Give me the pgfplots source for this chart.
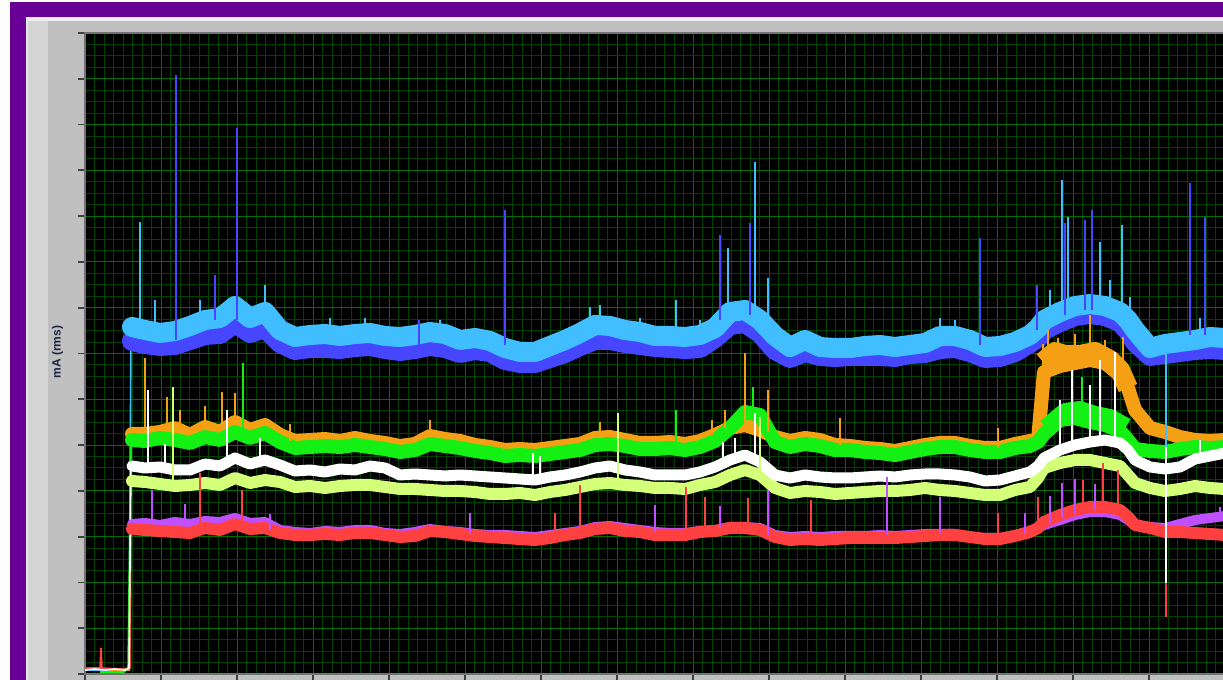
\documentclass[border=0pt]{standalone}
\usepackage{pgfplots}
\pgfplotsset{compat=1.18}
\usepackage{pgfplotstable}
\usepackage{fontspec}
\setmainfont{Liberation Sans}

\definecolor{frame}{RGB}{105,0,150}
\definecolor{panel}{RGB}{192,192,192}
\definecolor{panellt}{RGB}{212,212,212}
\definecolor{gmaj}{RGB}{0,110,0}
\definecolor{gmin}{RGB}{0,66,0}
\definecolor{cLB}{RGB}{64,190,255}
\definecolor{cDB}{RGB}{70,70,255}
\definecolor{cOR}{RGB}{245,160,20}
\definecolor{cGR}{RGB}{20,240,20}
\definecolor{cWH}{RGB}{255,255,255}
\definecolor{cYG}{RGB}{212,255,120}
\definecolor{cVI}{RGB}{190,80,255}
\definecolor{cRD}{RGB}{255,64,64}
\definecolor{labelc}{RGB}{28,36,68}

% trace levels (row position of the band centre, px)
\pgfplotstableread{
x    lb  db  or  gr  wh  yg  vi  rd
132  327 341 434 440 466 481 524 529
145  330 344 434 441 468 482 523 530
160  333 346 432 438 467 484 525 531
175  331 345 428 440 470 486 522 532
190  326 340 435 443 470 485 524 533
205  320 335 427 437 464 483 521 528
220  318 334 432 440 466 485 522 530
235  306 323 422 432 458 478 518 524
250  318 333 430 438 464 483 523 529
265  312 328 425 433 460 480 522 528
280  330 343 435 442 465 482 530 533
295  337 350 441 448 471 487 532 535
310  335 348 440 447 470 486 533 535
325  334 348 439 446 472 488 531 534
340  336 349 441 447 469 486 532 535
355  334 347 438 445 470 485 530 533
370  333 346 441 447 466 485 530 533
385  336 349 443 449 468 487 533 535
400  337 351 446 452 475 489 534 537
415  335 349 444 450 474 489 532 536
430  332 346 436 444 475 490 529 531
445  334 348 439 446 476 491 531 532
460  340 353 441 448 475 491 532 534
475  338 350 445 451 476 492 534 536
490  341 352 447 453 477 494 535 537
505  348 360 450 456 478 494 535 538
520  352 363 449 455 479 493 536 539
535  352 363 450 456 480 495 537 540
550  346 358 448 454 477 492 535 538
565  340 353 446 452 475 490 533 535
580  333 346 444 450 472 487 531 533
595  325 340 438 445 468 484 527 529
610  326 340 437 444 466 483 526 528
625  330 343 440 446 470 485 528 531
640  332 345 443 449 472 486 530 532
655  336 347 443 449 475 488 532 535
670  336 348 442 448 475 488 533 535
685  337 349 444 450 475 489 533 535
700  335 348 441 447 472 485 531 532
715  328 338 435 441 467 482 530 531
730  312 325 428 428 460 475 527 528
745  310 323 425 412 455 470 527 528
760  320 333 430 415 462 475 528 530
775  336 350 437 442 475 488 535 537
790  347 358 441 447 478 493 537 540
805  340 352 438 444 475 491 536 539
820  347 356 440 446 477 492 537 540
835  348 357 445 450 478 494 536 539
850  348 356 446 450 478 493 536 538
865  346 356 448 452 477 492 536 538
880  345 356 449 453 476 491 535 538
895  347 357 451 455 477 491 536 538
910  345 354 448 452 475 490 535 537
925  343 353 445 449 474 488 534 536
940  336 349 443 447 474 490 534 535
955  336 348 443 447 475 491 534 535
970  340 352 446 450 477 493 537 537
985  347 358 448 452 481 495 538 539
1000 346 357 448 452 480 495 538 539
1015 342 352 444 448 476 490 535 536
1030 335 343 441 446 472 487 531 532
1038 328 338 440 442 466 478 528 528
1044 320 330 372 434 458 468 525 522
1060 312 322 366 420 450 463 520 515
1075 306 316 363 418 445 460 515 510
1090 304 314 360 422 442 460 512 507
1105 306 316 363 425 440 463 512 507
1120 312 322 375 431 443 466 515 510
1128 320 331 388 440 450 475 520 517
1135 330 342 410 449 460 483 525 525
1150 348 356 428 451 467 488 527 528
1165 344 354 432 452 469 491 528 532
1180 342 352 437 449 467 489 524 532
1195 340 350 440 447 459 486 520 533
1210 337 349 441 448 456 488 518 534
1225 338 350 440 447 453 489 516 535
}\traces

\begin{document}
\begin{tikzpicture}
\useasboundingbox (0,0) rectangle (611.5pt,340pt);
\clip (0,0) rectangle (611.5pt,340pt);
\fill[white] (0,0) rectangle (611.5pt,340pt);
\fill[frame] (5pt,331.5pt) rectangle (611.5pt,339pt);
\fill[frame] (5pt,0) rectangle (13pt,339pt);
\fill[panel] (13pt,0) rectangle (611.5pt,331.5pt);
\fill[black!7] (13pt,329.7pt) rectangle (611.5pt,331.5pt);
\fill[black!10] (13pt,0) rectangle (14pt,331.5pt);
\fill[panellt] (14pt,0) rectangle (24pt,329.7pt);

\begin{axis}[
    at={(42.5pt,3pt)}, anchor=south west,
    width=570pt, height=320.5pt, scale only axis,
    xmin=85, xmax=1225, ymin=0, ymax=641,
    xtick={85,161,...,1225},
    ytick distance=45.7857,
    xtick pos=bottom, ytick pos=left,
    minor x tick num=7,
    minor y tick num=3,
    xticklabels={}, yticklabels={},
    grid=both,
    major grid style={draw=gmaj, line width=0.5pt},
    minor grid style={draw=gmin, line width=0.5pt},
    tick align=outside,
    major tick length=3.6pt,
    minor tick length=0pt,
    every tick/.style={draw=black!75, line width=0.9pt},
    axis line style={draw=black!55, line width=0.8pt},
    axis background/.style={fill=black},
    ylabel={mA (rms)},
    ylabel style={at={(axis description cs:-0.024,0.502)}, anchor=center,
        font=\fontsize{6}{7}\selectfont\bfseries, text=labelc},
    band/.style={no marks, line join=round, line cap=round},
    step/.style={no marks, line join=round, line cap=butt},
    spike/.style={no marks, line width=1pt, unbounded coords=jump},
    hair/.style={no marks, line width=0.7pt, unbounded coords=jump},
]
% start-up part near zero and the step at switch-on
\addplot[cLB, no marks, line width=0.8pt] coordinates {(85,4) (129,4) (131,347)};
\addplot[cOR, no marks, line width=0.8pt] coordinates {(110,3) (129,4) (131,240)};
\addplot[cGR, no marks, line width=0.8pt] coordinates {(100,2) (124,2) (128,5) (131,234)};
\addplot[cRD, no marks, line width=0.8pt] coordinates {(85,6) (100,6) (101,26) (102,6) (120,5) (130,6) (131,145)};
\addplot[cWH, no marks, line width=0.8pt] coordinates {(85,4) (95,5) (105,4) (115,5) (125,4) (129,6) (131,208)};

% noisy bands
\addplot[cDB, band, line width=10pt] table[x=x, y expr=674-\thisrow{db}] {\traces};
\addplot[cLB, band, line width=10pt] table[x=x, y expr=674-\thisrow{lb}] {\traces};
\addplot[cOR, band, line width=7pt] table[x=x, y expr=674-\thisrow{or}] {\traces};
% wider orange step between 1044 and 1128
\addplot[cOR, step, line width=10pt] coordinates {
 (1043,312) (1055,322) (1065,319) (1080,319) (1095,322) (1110,314) (1120,304) (1128,286)};
\addplot[cOR, no marks, line width=1pt] coordinates {(1043,230) (1043,330)};
\addplot[cGR, band, line width=7pt] table[x=x, y expr=674-\thisrow{gr}] {\traces};
\addplot[cGR, step, line width=9pt] coordinates {
 (1046,246) (1065,262) (1080,264) (1095,259) (1110,256) (1126,247)};
\addplot[cYG, band, line width=6pt] table[x=x, y expr=674-\thisrow{yg}] {\traces};
\addplot[cWH, band, line width=5.5pt] table[x=x, y expr=674-\thisrow{wh}] {\traces};
\addplot[cVI, band, line width=5pt] table[x=x, y expr=674-\thisrow{vi}] {\traces};
\addplot[cRD, band, line width=6pt] table[x=x, y expr=674-\thisrow{rd}] {\traces};

% small hairs on the bands
\addplot[cLB, hair] coordinates {
 (155,340) (155,374) (155,nan) (200,350) (200,374) (200,nan)
 (265,360) (265,389) (265,nan) (330,338) (330,356) (330,nan)
 (365,338) (365,356) (365,nan) (440,340) (440,354) (440,nan)
 (600,348) (600,369) (600,nan) (640,340) (640,356) (640,nan)
 (700,338) (700,354) (700,nan) (940,338) (940,356) (940,nan)
 (955,338) (955,354) (955,nan) (1050,356) (1050,384) (1050,nan)
 (1110,368) (1110,394) (1110,nan) (1200,334) (1200,356) (1200,nan)};
\addplot[cOR, hair] coordinates {
 (205,247) (205,268) (205,nan) (290,233) (290,250) (290,nan)
 (430,238) (430,254) (430,nan) (600,236) (600,252) (600,nan)
 (725,246) (725,264) (725,nan) (1058,308) (1058,336) (1058,nan)
 (1075,310) (1075,340) (1075,nan) (1105,312) (1105,334) (1105,nan)};
\addplot[cWH, hair] coordinates {
 (165,206) (165,230) (165,nan) (260,214) (260,236) (260,nan)
 (540,194) (540,218) (540,nan) (735,214) (735,236) (735,nan)
 (1060,224) (1060,274) (1060,nan) (1090,232) (1090,289) (1090,nan)
 (1100,234) (1100,314) (1100,nan) (1200,215) (1200,234) (1200,nan)};
\addplot[cVI, hair] coordinates {
 (185,150) (185,170) (185,nan) (270,144) (270,160) (270,nan)
 (720,146) (720,168) (720,nan) (1050,150) (1050,178) (1050,nan)
 (1075,160) (1075,195) (1075,nan) (1095,164) (1095,190) (1095,nan)};

% spikes
\addplot[cDB, spike] coordinates {
 (176,334) (176,599) (176,nan) (215,354) (215,399) (215,nan)
 (237,354) (237,546) (237,nan) (419,329) (419,354) (419,nan)
 (505,329) (505,464) (505,nan) (720,354) (720,439) (720,nan)
 (750,359) (750,451) (750,nan) (980,329) (980,436) (980,nan)
 (1037,344) (1037,389) (1037,nan) (1065,359) (1065,451) (1065,nan)
 (1085,364) (1085,454) (1085,nan) (1092,364) (1092,464) (1092,nan)
 (1190,339) (1190,491) (1190,nan) (1205,339) (1205,457) (1205,nan)};
\addplot[cLB, spike] coordinates {
 (140,349) (140,452) (140,nan) (590,354) (590,367) (590,nan)
 (676,344) (676,374) (676,nan) (728,359) (728,426) (728,nan)
 (755,369) (755,512) (755,nan) (768,354) (768,396) (768,nan)
 (1062,364) (1062,494) (1062,nan) (1068,369) (1068,457) (1068,nan)
 (1100,369) (1100,432) (1100,nan) (1122,364) (1122,449) (1122,nan)
 (1130,354) (1130,377) (1130,nan) (1166,329) (1166,227) (1166,nan)};
\addplot[cOR, spike] coordinates {
 (145,244) (145,316) (145,nan) (167,244) (167,277) (167,nan)
 (180,246) (180,264) (180,nan) (222,244) (222,282) (222,nan)
 (235,252) (235,281) (235,nan) (712,239) (712,254) (712,nan)
 (745,249) (745,321) (745,nan) (768,242) (768,284) (768,nan)
 (840,229) (840,256) (840,nan) (998,226) (998,246) (998,nan)
 (1048,306) (1048,344) (1048,nan) (1090,314) (1090,359) (1090,nan)
 (1123,296) (1123,337) (1123,nan)};
\addplot[cGR, spike] coordinates {
 (243,236) (243,311) (243,nan) (676,226) (676,264) (676,nan)
 (753,262) (753,287) (753,nan) (1082,254) (1082,297) (1082,nan)};
\addplot[cYG, spike] coordinates {
 (173,188) (173,287) (173,nan) (618,190) (618,261) (618,nan)
 (760,199) (760,257) (760,nan)};
\addplot[cWH, spike] coordinates {
 (148,206) (148,284) (148,nan) (227,208) (227,264) (227,nan)
 (533,194) (533,221) (533,nan) (723,209) (723,232) (723,nan)
 (755,214) (755,261) (755,nan) (1072,229) (1072,304) (1072,nan)
 (1115,233) (1115,322) (1115,nan) (1166,227) (1166,91) (1166,nan)};
\addplot[cVI, spike] coordinates {
 (152,151) (152,184) (152,nan) (470,140) (470,161) (470,nan)
 (655,142) (655,169) (655,nan) (768,139) (768,184) (768,nan)
 (887,139) (887,197) (887,nan) (940,140) (940,177) (940,nan)
 (1025,140) (1025,161) (1025,nan) (1062,156) (1062,191) (1062,nan)
 (1220,158) (1220,167) (1220,nan)};
\addplot[cRD, spike] coordinates {
 (200,146) (200,201) (200,nan) (242,149) (242,184) (242,nan)
 (555,136) (555,161) (555,nan) (580,141) (580,189) (580,nan)
 (686,139) (686,187) (686,nan) (705,142) (705,177) (705,nan)
 (748,146) (748,176) (748,nan) (811,135) (811,174) (811,nan)
 (998,135) (998,161) (998,nan) (1038,146) (1038,177) (1038,nan)
 (1083,164) (1083,194) (1083,nan) (1103,167) (1103,211) (1103,nan)
 (1118,164) (1118,204) (1118,nan) (1166,91) (1166,57) (1166,nan)};
\end{axis}
\end{tikzpicture}
\end{document}
